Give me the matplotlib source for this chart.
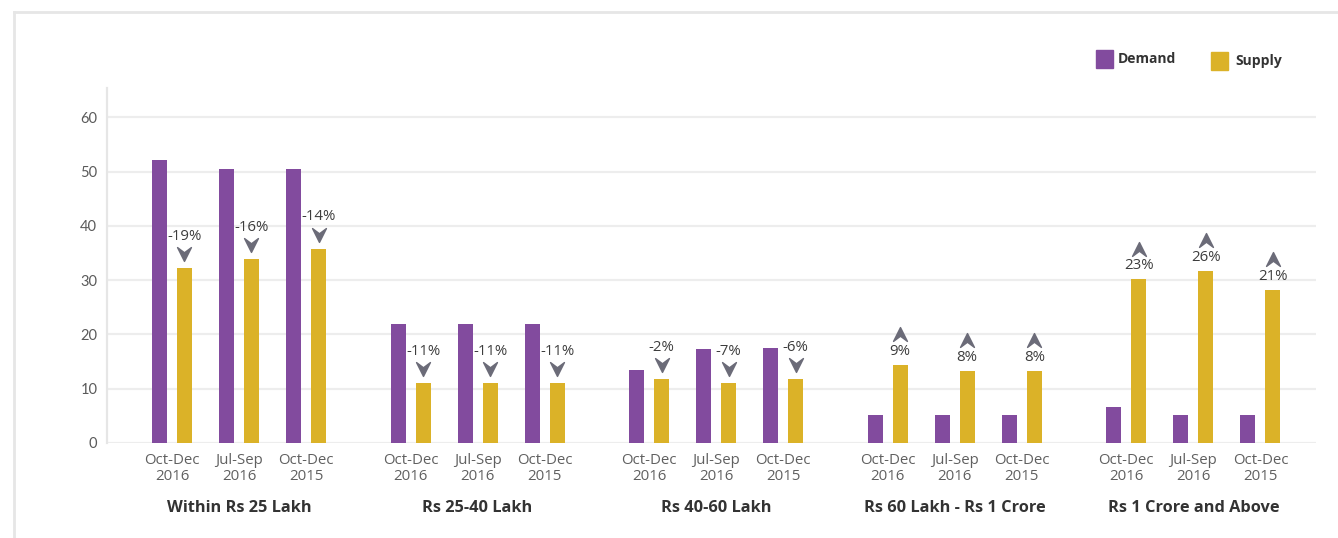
import matplotlib
matplotlib.use("Agg")
import matplotlib.pyplot as plt
from matplotlib.path import Path
from matplotlib.transforms import offset_copy
from matplotlib.patches import Rectangle
from matplotlib.lines import Line2D

# ---------------- data ----------------
groups = ["Within Rs 25 Lakh", "Rs 25-40 Lakh", "Rs 40-60 Lakh",
          "Rs 60 Lakh - Rs 1 Crore", "Rs 1 Crore and Above"]
periods = ["Oct-Dec\n2016", "Jul-Sep\n2016", "Oct-Dec\n2015"]
demand = [
    [52.1, 50.5, 50.5],
    [21.9, 22.0, 22.0],
    [13.5, 17.3, 17.5],
    [5.2, 5.2, 5.2],
    [6.7, 5.2, 5.2],
]
supply = [
    [32.2, 33.9, 35.8],
    [11.0, 11.0, 11.0],
    [11.8, 11.0, 11.8],
    [14.4, 13.3, 13.3],
    [30.2, 31.7, 28.2],
]
changes = [
    ["-19%", "-16%", "-14%"],
    ["-11%", "-11%", "-11%"],
    ["-2%", "-7%", "-6%"],
    ["9%", "8%", "8%"],
    ["23%", "26%", "21%"],
]
yticks = [0, 10, 20, 30, 40, 50, 60]

# ---------------- style ----------------
PURPLE = "#824B9E"
GOLD = "#DBB228"
ARROW = "#6B6B78"
GRID = "#EDEDED"

W, H = 1338, 538
fig = plt.figure(figsize=(W / 100, H / 100), dpi=100)
ax = fig.add_axes([107 / W, 1 - 443 / H, (1316 - 107) / W, (443 - 88) / H])

group_gap = 3.56
offset = 0.186
bw = 0.224

down = Path([(-1, 1), (0, -1), (1, 1), (0, 0.25), (-1, 1)],
            [Path.MOVETO, Path.LINETO, Path.LINETO, Path.LINETO, Path.CLOSEPOLY])
up = Path([(-1, -1), (0, 1), (1, -1), (0, -0.25), (-1, -1)],
          [Path.MOVETO, Path.LINETO, Path.LINETO, Path.LINETO, Path.CLOSEPOLY])

tick_pos, tick_lab = [], []
for g, gname in enumerate(groups):
    center = g * group_gap
    for p, plab in enumerate(periods):
        xc = center + (p - 1)
        tick_pos.append(xc)
        tick_lab.append(plab)
        ax.bar(xc - offset, demand[g][p], width=bw, color=PURPLE, zorder=3)
        ax.bar(xc + offset, supply[g][p], width=bw, color=GOLD, zorder=3)
        xs, ys = xc + offset, supply[g][p]
        lab = changes[g][p]
        if lab.startswith("-"):
            t_arrow = offset_copy(ax.transData, fig=fig, y=10, units="points")
            ax.plot([xs], [ys], marker=down, markersize=10, color=ARROW,
                    transform=t_arrow, zorder=4, clip_on=False)
            ax.annotate(lab, (xs, ys), xytext=(0, 23), textcoords="offset points",
                        ha="center", va="center", fontsize=10.8, color="#3d3d3d",
                        family="Open Sans")
        else:
            t_arrow = offset_copy(ax.transData, fig=fig, y=22, units="points")
            ax.plot([xs], [ys], marker=up, markersize=10, color=ARROW,
                    transform=t_arrow, zorder=4, clip_on=False)
            ax.annotate(lab, (xs, ys), xytext=(0, 9.5), textcoords="offset points",
                        ha="center", va="center", fontsize=10.8, color="#3d3d3d",
                        family="Open Sans")
    ax.annotate(gname, (center, 0), xycoords=("data", "axes fraction"),
                xytext=(0, -46.5), textcoords="offset points", ha="center", va="center",
                fontsize=11.8, fontweight="bold", color="#333333", family="Open Sans")

ax.set_xticks(tick_pos)
ax.set_xticklabels(tick_lab, fontsize=10.8, color="#606060", family="Open Sans",
                   linespacing=1.15)
ax.set_yticks(yticks)
ax.set_yticklabels([str(v) for v in yticks], fontsize=10.5, color="#5a5a5a", family="Lato")
ax.tick_params(axis="both", length=0)
ax.tick_params(axis="x", pad=7)
ax.tick_params(axis="y", pad=7)

ax.set_xlim(-1.97, 16.07)
ax.set_ylim(0, 65.4)
ax.grid(axis="y", color=GRID, linewidth=1.6, zorder=0)
ax.set_axisbelow(True)
for s in ["top", "right", "bottom"]:
    ax.spines[s].set_visible(False)
ax.spines["left"].set_color("#E6E6E6")
ax.spines["left"].set_linewidth(1.6)

# legend (manual)
fig.add_artist(Rectangle((1096 / W, 1 - 68 / H), 17 / W, 18 / H,
                         transform=fig.transFigure, color=PURPLE))
fig.text(1118 / W, 1 - 59 / H, "Demand", fontsize=10, fontweight="bold",
         color="#333333", va="center", ha="left", family="Open Sans")
fig.add_artist(Rectangle((1211 / W, 1 - 70 / H), 17 / W, 18 / H,
                         transform=fig.transFigure, color=GOLD))
fig.text(1235 / W, 1 - 61 / H, "Supply", fontsize=10, fontweight="bold",
         color="#333333", va="center", ha="left", family="Open Sans")

# outer frame
fig.add_artist(Line2D([14 / W, 1], [1 - 11.5 / H, 1 - 11.5 / H],
                      transform=fig.transFigure, color="#E6E6E6", linewidth=2))
fig.add_artist(Line2D([14 / W, 14 / W], [0, 1 - 11.5 / H],
                      transform=fig.transFigure, color="#E6E6E6", linewidth=2))

fig.savefig("out.png", dpi=100, facecolor="white")
